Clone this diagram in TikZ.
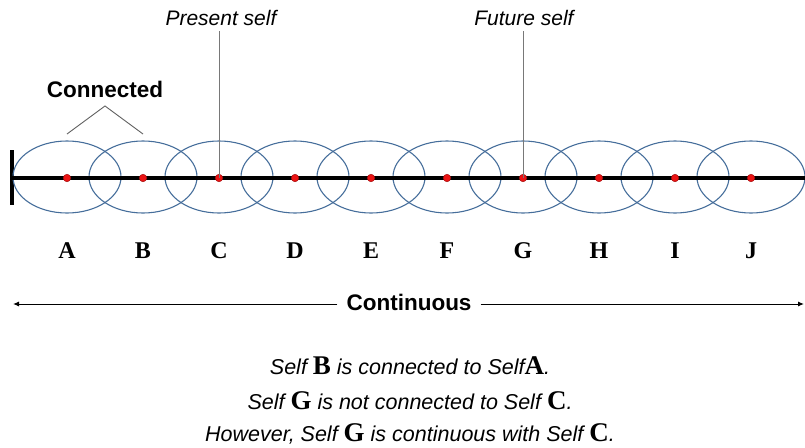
\documentclass[tikz,border=0pt]{standalone}
\usepackage{fontspec}
\setmainfont{Liberation Serif}
\setsansfont{Liberation Sans}
\usetikzlibrary{arrows.meta}
\definecolor{ringblue}{RGB}{70,110,155}
\definecolor{dotred}{RGB}{235,20,20}
\definecolor{leadgray}{RGB}{120,120,120}
\newcommand{\selfletter}[1]{{\fontsize{27}{27}\selectfont\bfseries\rmfamily\upshape #1}}
\begin{document}
\begin{tikzpicture}[x=1pt,y=-1pt,
  ring/.style={draw=ringblue,line width=1.1pt},
  selfdot/.style={circle,fill=dotred,draw=dotred!70!black,line width=0.5pt,inner sep=0pt,minimum size=7.5pt},
  letter/.style={font=\fontsize{24}{24}\selectfont\bfseries\rmfamily},
  tag/.style={font=\fontsize{21}{21}\selectfont\itshape\sffamily},
  heading/.style={font=\fontsize{22.5}{22.5}\selectfont\bfseries\sffamily},
  statement/.style={font=\fontsize{21.5}{21.5}\selectfont\itshape\sffamily},
  lead/.style={draw=leadgray,line width=0.8pt}]
\useasboundingbox (0,0) rectangle (805,447);
% time line
\coordinate (start) at (12,178);
\coordinate (finish) at (805,178);
\draw[line width=3.5pt] (12,150) -- (12,205);
% overlapping selves
\foreach \n [count=\i from 0] in {A,B,C,D,E,F,G,H,I,J}{
  \draw[ring] (67+76*\i,177) ellipse [x radius=54,y radius=36];
}
\draw[line width=3.5pt] (start) -- (finish);
\foreach \n [count=\i from 0] in {A,B,C,D,E,F,G,H,I,J}{
  \node[selfdot] (d\n) at (67+76*\i,178) {};
  \node[letter] (l\n) at (67+76*\i,251) {\n};
}
% labels above
\node[tag] (present) at (221,18) {Present self};
\node[tag] (future) at (524,18) {Future self};
\draw[lead] (219,31) -- (dC.center);
\draw[lead] (523,31) -- (dG.center);
\node[heading] (conn) at (105,89) {Connected};
\coordinate (apex) at (105,106);
\draw[leadgray!80!black,line width=0.9pt] (67,134) -- (apex) -- (143,134);
% continuity arrow
\node[heading,inner xsep=9pt] (cont) at (409,302) {Continuous};
\coordinate (cl) at (13,304);
\coordinate (cr) at (804,304);
\draw[line width=1pt,-{Latex[length=6pt,width=5pt]}] (cont.west |- cl) -- (cl);
\draw[line width=1pt,-{Latex[length=6pt,width=5pt]}] (cont.east |- cr) -- (cr);
% statements
\node[statement] (s1) at (410,366) {Self \selfletter{B} is connected to Self\selfletter{A}.};
\node[statement] (s2) at (410,401) {Self \selfletter{G} is not connected to Self \selfletter{C}.};
\node[statement] (s3) at (410,434) {However, Self \selfletter{G} is continuous with Self \selfletter{C}.};
\end{tikzpicture}
\end{document}
